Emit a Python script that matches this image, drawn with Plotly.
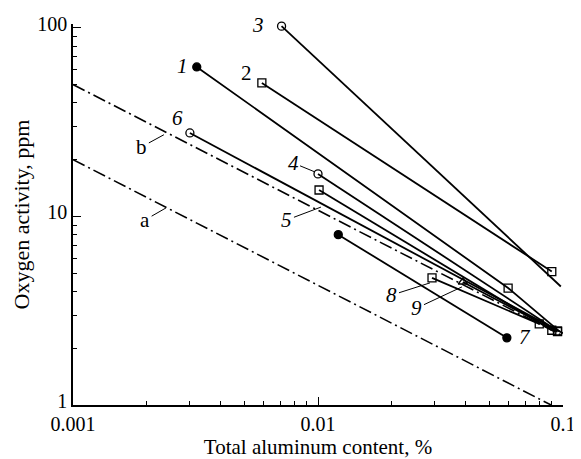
import numpy as np
import plotly.graph_objects as go

# ---- data ----
x_ticks = [0.001, 0.01, 0.1]
x_tick_text = ["0.001", "0.01", "0.1"]
y_ticks = [1, 10, 100]
y_tick_text = ["1", "10", "100"]

s1_x = [0.0032, 0.0597, 0.097]
s1_y = [62.0, 4.17, 2.45]
s2_x = [0.0059, 0.090]
s2_y = [51.0, 5.1]
s3_x = [0.0071, 0.098]
s3_y = [102.0, 4.25]
s4_x = [0.0100, 0.095]
s4_y = [16.8, 2.47]
s5_x = [0.0101, 0.090]
s5_y = [13.8, 2.49]
s6_x = [0.0030, 0.100]
s6_y = [27.7, 2.40]
s7_x = [0.0121, 0.059]
s7_y = [8.0, 2.27]
s8_x = [0.0292, 0.080]
s8_y = [4.72, 2.69]
s9_x = [0.039, 0.095]
s9_y = [4.49, 2.45]

a_x = [0.001, 0.0894]
a_y = [20.0, 1.0]
b_x = [0.001, 0.1]
b_y = [50.0, 2.32]

label_text = ["1", "2", "3", "6", "7", "4", "5", "8", "9", "b", "a"]
label_x = [0.00281, 0.00513, 0.00569, 0.00268, 0.0700, 0.00791, 0.00747, 0.02004, 0.02535, 0.00191, 0.00197]
label_y = [62.9, 57.7, 103.8, 33.3, 2.30, 19.2, 9.58, 3.83, 3.27, 23.4, 9.58]
# leader-line targets (None = no leader)
leader_x = [None, None, None, None, None, 0.00972, 0.01028, 0.02866, 0.0387, 0.00235, 0.00240]
leader_y = [None, None, None, None, None, 17.2, 11.2, 4.44, 4.23, 27.1, 11.1]

# ---- styles (kept apart from the values) ----
italic = {"1", "3", "4", "5", "6", "7", "8", "9"}
marker_styles = [
    (["circle", "square-open", "circle-open"], [1, 1, 0]),
    (["square-open", "square-open"], [1, 1]),
    (["circle-open", "circle-open"], [1, 0]),
    (["circle-open", "square-open"], [1, 1]),
    (["square-open", "square-open"], [1, 1]),
    (["circle-open", "circle-open"], [1, 1]),
    (["circle", "circle"], [1, 1]),
    (["square-open", "square-open"], [1, 1]),
    (["triangle-up-open", "square-open"], [1, 1]),
]

series = [(s1_x, s1_y), (s2_x, s2_y), (s3_x, s3_y), (s4_x, s4_y), (s5_x, s5_y),
          (s6_x, s6_y), (s7_x, s7_y), (s8_x, s8_y), (s9_x, s9_y)]

FONT = "Liberation Serif"

fig = go.Figure()

for lx, ly in [(a_x, a_y), (b_x, b_y)]:
    fig.add_trace(go.Scatter(
        x=lx, y=ly, mode="lines",
        line=dict(color="black", width=1.6, dash="13px,4px,2px,4px"),
        showlegend=False, hoverinfo="skip"))

for (sx, sy), (sym, op) in zip(series, marker_styles):
    fig.add_trace(go.Scatter(
        x=sx, y=sy, mode="lines+markers",
        line=dict(color="black", width=1.8),
        marker=dict(symbol=sym, size=8, color="black", opacity=op,
                    line=dict(color="black", width=1.3)),
        showlegend=False, cliponaxis=False))

anns = []
for t, tx, ty, px, py in zip(label_text, label_x, label_y, leader_x, leader_y):
    txt = "<i>%s</i>" % t if t in italic else t
    f = dict(family=FONT, size=21, color="black")
    if px is None:
        anns.append(dict(x=np.log10(tx), y=np.log10(ty), xref="x", yref="y",
                         text=txt, showarrow=False, font=f))
    else:
        anns.append(dict(x=np.log10(px), y=np.log10(py), xref="x", yref="y",
                         text=txt, showarrow=True, arrowhead=0, arrowwidth=1,
                         arrowcolor="black", axref="x", ayref="y",
                         ax=np.log10(tx), ay=np.log10(ty), font=f))

minor_x = [k * 10.0 ** e for e in (-3, -2) for k in range(2, 10)]
minor_y = [k * 10.0 ** e for e in (0, 1) for k in range(2, 10)]

# the page body adds an 8px margin, so the figure is 8px smaller
fig.update_layout(
    width=573, height=451,
    margin=dict(l=65, r=18, t=16, b=54),
    paper_bgcolor="white", plot_bgcolor="white",
    font=dict(family=FONT, size=20, color="black"),
    annotations=anns,
    showlegend=False,
)

fig.update_xaxes(
    type="log", range=[-3, -1], automargin=False,
    tickvals=x_ticks, ticktext=x_tick_text,
    ticks="inside", ticklen=8, tickwidth=1, tickcolor="black",
    minor=dict(tickvals=minor_x, ticks="inside", ticklen=4, tickwidth=1,
               tickcolor="black", showgrid=False),
    showline=True, linecolor="black", linewidth=1.5, mirror=False,
    showgrid=False, zeroline=False,
    tickfont=dict(family=FONT, size=20, color="black"),
    title=dict(text="Total aluminum content, %", standoff=6,
               font=dict(family=FONT, size=21, color="black")),
)
fig.update_yaxes(
    type="log", range=[0, 2.02], automargin=False,
    tickvals=y_ticks, ticktext=y_tick_text, ticklabelshift=-4,
    ticks="inside", ticklen=8, tickwidth=1, tickcolor="black",
    minor=dict(tickvals=minor_y, ticks="inside", ticklen=4, tickwidth=1,
               tickcolor="black", showgrid=False),
    showline=True, linecolor="black", linewidth=1.5, mirror=False,
    showgrid=False, zeroline=False,
    tickfont=dict(family=FONT, size=20, color="black"),
    title=dict(text="Oxygen activity, ppm", standoff=2,
               font=dict(family=FONT, size=22, color="black")),
)

fig.write_html("out.html")
